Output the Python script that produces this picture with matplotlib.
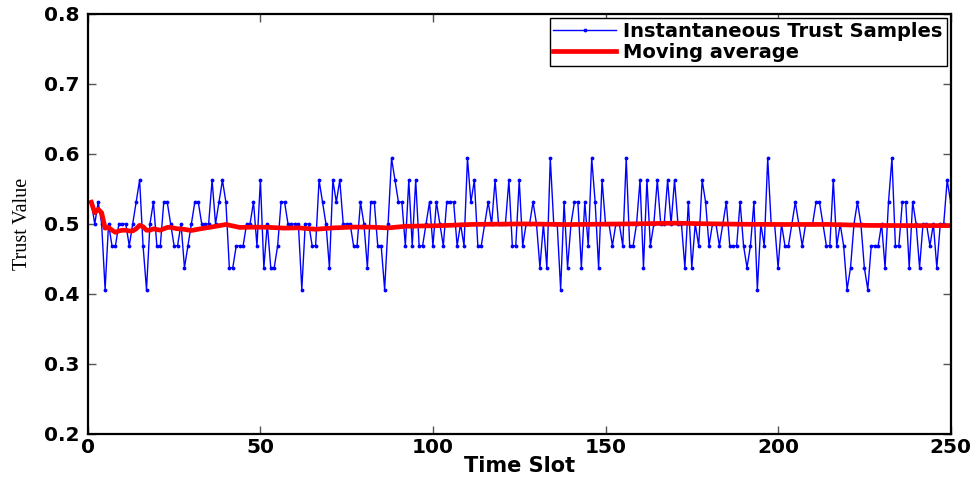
import numpy as np
import matplotlib
matplotlib.use("Agg")
import matplotlib.pyplot as plt

# trust samples, in units of 1/32, read slot by slot (slots 1..250)
samples_32 = [
    17, 16, 17, 16, 13, 16, 15, 15, 16, 16, 16, 15, 16, 17, 18, 15, 13, 16, 17, 15, 15, 17, 17, 16, 15, 15, 16,
    14, 15, 16, 17, 17, 16, 16, 16, 18, 16, 17, 18, 17, 14, 14, 15, 15, 15, 16, 16, 17, 15, 18, 14, 16,
    14, 14, 15, 17, 17, 16, 16, 16, 16, 13, 16, 16, 15, 15, 18, 17, 16, 14, 18, 17, 18, 16, 16, 16, 15,
    15, 17, 16, 14, 17, 17, 15, 15, 13, 16, 19, 18, 17, 17, 15, 18, 15, 18, 15, 15, 16, 17, 15, 17, 16,
    15, 17, 17, 17, 15, 16, 15, 19, 17, 18, 15, 15, 16, 17, 16, 18, 16, 16, 16, 18, 15, 15, 18, 15, 16,
    16, 17, 16, 14, 16, 14, 19, 16, 16, 13, 17, 14, 16, 17, 17, 14, 17, 15, 19, 17, 14, 18, 16, 16, 15,
    16, 16, 15, 19, 15, 15, 16, 18, 14, 18, 15, 16, 18, 16, 16, 18, 16, 18, 16, 16, 14, 17, 14, 16, 15,
    18, 17, 15, 16, 16, 15, 16, 17, 15, 15, 15, 17, 15, 14, 15, 17, 13, 16, 15, 19, 16, 16, 14, 16, 15,
    15, 16, 17, 16, 15, 16, 16, 16, 17, 17, 16, 15, 15, 18, 15, 16, 15, 13, 14, 16, 17, 16, 14, 13,
    15, 15, 15, 16, 14, 17, 19, 15, 15, 17, 17, 14, 17, 16, 14, 16, 16, 15, 16, 14, 16, 16, 18, 17,
]
trust = [v / 32 for v in samples_32]
slots = list(range(1, len(trust) + 1))

# moving average line
ma_slots = [1, 2, 3, 4, 5, 6, 7, 8, 9, 10, 11, 12, 13, 14, 15, 16, 17, 18, 19, 20,
            21, 22, 23, 24, 25, 26, 27, 30, 33, 36, 40, 44, 48, 52, 57, 61, 66, 71, 77,
            82, 87, 92, 97, 102, 112, 127, 139, 152, 160, 170, 177, 190, 202, 214, 226, 238, 250]
ma_vals = [0.531, 0.516, 0.521, 0.516, 0.494, 0.495, 0.491, 0.488, 0.490, 0.491, 0.491, 0.490,
           0.490, 0.493, 0.498, 0.496, 0.491, 0.491, 0.493, 0.492, 0.491, 0.493, 0.495, 0.495,
           0.494, 0.493, 0.493, 0.4906, 0.4934, 0.4957, 0.4992, 0.4950, 0.4954, 0.4952, 0.4940,
           0.4944, 0.4924, 0.4943, 0.4955, 0.4954, 0.4943, 0.4966, 0.4971, 0.4975, 0.4994, 0.5000,
           0.4991, 0.4998, 0.5002, 0.5011, 0.5004, 0.4995, 0.4992, 0.4993, 0.4979, 0.4976, 0.4976]

xticks = [0, 50, 100, 150, 200, 250]
yticks = [0.2, 0.3, 0.4, 0.5, 0.6, 0.7, 0.8]

fig = plt.figure(figsize=(9.76, 4.8), dpi=100)
ax = fig.add_axes([0.090, 0.096, 0.884, 0.875])

ax.plot(slots, trust, color="#0000ff", lw=1.0, marker=".", ms=3.5,
        label="Instantaneous Trust Samples")
ax.plot(ma_slots, ma_vals, color="#ff0000", lw=3.4, label="Moving average")

ax.set_xlim(0, 250)
ax.set_ylim(0.2, 0.8)
ax.set_xticks(xticks)
ax.set_yticks(yticks)
ax.set_xticklabels([str(t) for t in xticks])
ax.set_yticklabels(["%.1f" % t for t in yticks])

ax.tick_params(direction="in", length=6, width=1, color="#555555",
               top=True, right=True, labelsize=14.5, pad=6)
ax.tick_params(axis="x", pad=3)
for lab in ax.get_xticklabels() + ax.get_yticklabels():
    lab.set_fontfamily("DejaVu Sans")
    lab.set_fontweight("bold")
for sp in ax.spines.values():
    sp.set_linewidth(1.6)

ax.set_xlabel("Time Slot", fontfamily="DejaVu Sans", fontweight="bold", fontsize=15)
ax.xaxis.set_label_coords(0.5, -0.052)
ax.set_ylabel("Trust Value", fontfamily="Liberation Serif", fontsize=14.5)
ax.yaxis.set_label_coords(-0.065, 0.5)

leg = ax.legend(loc="upper right", prop={"family": "DejaVu Sans", "weight": "bold", "size": 14},
                fancybox=False, framealpha=1, edgecolor="black", handlelength=3.2,
                borderpad=0.2, labelspacing=0.1, handletextpad=0.4, borderaxespad=0.2)
leg.get_frame().set_linewidth(1.0)

fig.savefig("out.png", dpi=100)
